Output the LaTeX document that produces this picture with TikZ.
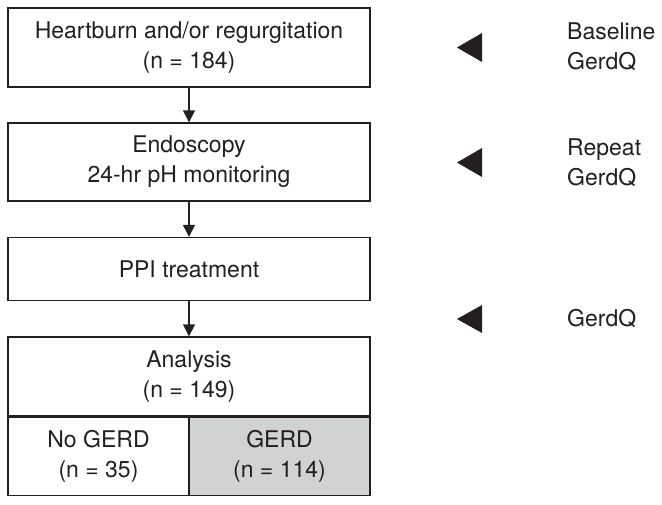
\documentclass[tikz,border=0pt]{standalone}
\usepackage{fontspec}
\setmainfont{TeX Gyre Heros}
\usetikzlibrary{arrows.meta}
\definecolor{ink}{HTML}{231F20}
\definecolor{shade}{HTML}{D1D2D4}
\begin{document}
\begin{tikzpicture}[x=1pt,y=-1pt,
  font=\fontsize{23}{30}\selectfont,
  box/.style={draw=ink,line width=1.4pt,text=ink,rectangle,align=center,inner sep=0pt},
  flow/.style={draw=ink,line width=1.4pt,-{Triangle[length=12pt,width=12pt]}},
  note/.style={text=ink,align=left,anchor=west,inner sep=0pt},
  pointer/.style={fill=ink}]
\useasboundingbox (0,0) rectangle (662,504);
\node[box,minimum width=362pt,minimum height=79pt] (b1) at (189,47.5) {Heartburn and/or regurgitation\\(n = 184)};
\node[box,minimum width=362pt,minimum height=78pt] (b2) at (189,162) {Endoscopy\\24-hr pH monitoring};
\node[box,minimum width=362pt,minimum height=63pt] (b3) at (189,269) {PPI treatment};
\node[box,minimum width=362pt,minimum height=79pt] (b4) at (189,376.5) {Analysis\\(n = 149)};
\node[box,minimum width=181pt,minimum height=78pt,anchor=north west] (b5) at (b4.south west) {No GERD\\(n = 35)};
\node[box,fill=shade,minimum width=181pt,minimum height=78pt,anchor=north east] (b6) at (b4.south east) {GERD\\(n = 114)};
\draw[flow] (b1) -- (b2);
\draw[flow] (b2) -- (b3);
\draw[flow] (b3) -- (b4);
\fill[pointer] (457,47.5) -- (482,33) -- (482,62) -- cycle;
\fill[pointer] (457,162.5) -- (482,148) -- (482,177) -- cycle;
\fill[pointer] (457,319) -- (482,305) -- (482,333) -- cycle;
\node[note] (n1) at (567,47) {Baseline\\GerdQ};
\node[note] (n2) at (567,163) {Repeat\\GerdQ};
\node[note] (n3) at (567,319) {GerdQ};
\end{tikzpicture}
\end{document}
